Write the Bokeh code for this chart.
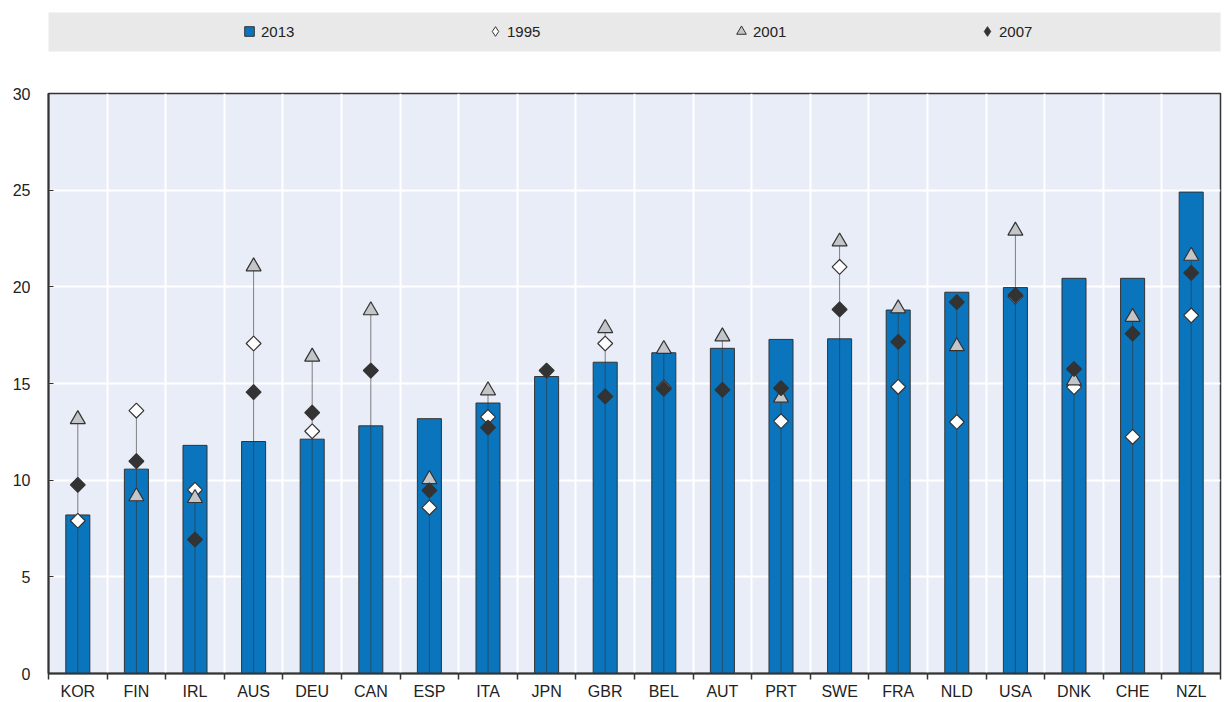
import numpy as np
from bokeh.plotting import figure
from bokeh.layouts import column
from bokeh.models import FixedTicker, Range1d, Legend, LegendItem, ColumnDataSource
from bokeh.embed import file_html
from bokeh.resources import INLINE

nan = float("nan")

countries = ["KOR", "FIN", "IRL", "AUS", "DEU", "CAN", "ESP", "ITA", "JPN", "GBR",
             "BEL", "AUT", "PRT", "SWE", "FRA", "NLD", "USA", "DNK", "CHE", "NZL"]
v2013 = [8.2, 10.57, 11.8, 12.0, 12.12, 12.81, 13.18, 13.99, 15.36, 16.1,
         16.59, 16.82, 17.28, 17.31, 18.8, 19.72, 19.96, 20.44, 20.44, 24.9]
v1995 = [7.9, 13.6, 9.5, 17.07, 12.53, nan, 8.58, 13.27, nan, 17.07,
         14.8, nan, 13.05, 21.03, 14.83, 13.01, 19.49, 14.81, 12.24, 18.52]
v2001 = [13.15, 9.16, 9.07, 21.05, 16.38, 18.78, 10.05, 14.64, nan, 17.86,
         16.78, 17.43, 14.26, 22.34, 18.88, 16.92, 22.9, 15.15, 18.44, 21.6]
v2007 = [9.76, 10.98, 6.93, 14.55, 13.49, 15.67, 9.47, 12.72, 15.67, 14.33,
         14.72, 14.67, 14.76, 18.83, 17.15, 19.21, 19.57, 15.75, 17.58, 20.72]
legend_labels = ["2013", "1995", "2001", "2007"]
y_ticks = [0, 5, 10, 15, 20, 25, 30]

BLUE = "#0a75bc"
DARK = "#333333"
GREY_TRI = "#c3c5c8"
PLOT_BG = "#e9edf7"
BAND_BG = "#e9e9e9"
FONT = "Liberation Sans"

n = len(countries)
xc = np.arange(n) + 0.5
bounds = list(np.arange(n + 1).astype(float))
top_vals = np.nanmax(np.array([v1995, v2001, v2007], dtype=float), axis=0)

src = ColumnDataSource(dict(x=xc, v2013=v2013, v1995=v1995, v2001=v2001, v2007=v2007,
                            zero=np.zeros(n), top=top_vals))

W = 1222
LEFT = 47
RIGHT = 2

# ---- legend band ----
top = figure(width=W, height=56, x_range=Range1d(0, 1), y_range=Range1d(0, 1),
             output_backend="svg", toolbar_location=None,
             x_axis_location=None, y_axis_location=None,
             min_border_left=LEFT + 1, min_border_right=RIGHT,
             min_border_top=12, min_border_bottom=5)
top.background_fill_color = BAND_BG
top.border_fill_color = "white"
top.outline_line_color = None
top.grid.visible = False

r1 = top.scatter(x=[nan], y=[nan], marker="square", size=10, fill_color=BLUE, line_color=DARK)
r2 = top.scatter(x=[nan], y=[nan], marker="diamond", size=10, fill_color="white", line_color=DARK)
r3 = top.scatter(x=[nan], y=[nan], marker="triangle", size=10, fill_color=GREY_TRI, line_color=DARK)
r4 = top.scatter(x=[nan], y=[nan], marker="diamond", size=10, fill_color=DARK, line_color=DARK)

legend = Legend(items=[LegendItem(label=legend_labels[0], renderers=[r1]),
                       LegendItem(label=legend_labels[1], renderers=[r2]),
                       LegendItem(label=legend_labels[2], renderers=[r3]),
                       LegendItem(label=legend_labels[3], renderers=[r4])],
                orientation="horizontal", location=(189, 8),
                glyph_width=24, glyph_height=24, label_standoff=0,
                label_width=222, spacing=0, padding=0, margin=0,
                background_fill_alpha=0, border_line_alpha=0,
                label_text_font=FONT, label_text_font_size="15px",
                label_text_color="#222222")
top.add_layout(legend)

# ---- main chart ----
p = figure(width=W, height=646, x_range=Range1d(0, n), y_range=Range1d(0, 30),
           output_backend="svg", toolbar_location=None,
           min_border_left=LEFT, min_border_right=RIGHT,
           min_border_top=37, min_border_bottom=20)
p.background_fill_color = PLOT_BG
p.border_fill_color = "white"
p.outline_line_color = DARK
p.outline_line_width = 1.5

p.vbar(x="x", top="v2013", width=0.41, bottom=0, source=src,
       fill_color=BLUE, line_color=DARK, line_width=1)
p.segment(x0="x", y0="zero", x1="x", y1="top", source=src,
          line_color=DARK, line_alpha=0.6, line_width=1)
p.scatter(x="x", y="v1995", source=src, marker="square", angle=np.pi / 4, size=10.5,
          fill_color="white", line_color=DARK, line_width=1.2)
p.scatter(x="x", y="v2001", source=src, marker="triangle", size=15,
          fill_color=GREY_TRI, line_color=DARK, line_width=1.2)
p.scatter(x="x", y="v2007", source=src, marker="square", angle=np.pi / 4, size=10.5,
          fill_color=DARK, line_color=DARK, line_width=1.2)

# x axis: labels at centres, ticks at boundaries
xax = p.xaxis[0]
xax.ticker = FixedTicker(ticks=list(xc), minor_ticks=bounds)
xax.major_label_overrides = {float(x): c for x, c in zip(xc, countries)}
xax.major_tick_in = 0
xax.major_tick_out = 0
xax.minor_tick_in = 0
xax.minor_tick_out = 6
xax.minor_tick_line_color = DARK
xax.minor_tick_line_width = 1.5
xax.major_label_standoff = 3
xax.axis_line_color = DARK
xax.axis_line_width = 2
xax.major_label_text_font = FONT
xax.major_label_text_font_size = "16px"
xax.major_label_text_color = "#222222"

yax = p.yaxis[0]
yax.ticker = FixedTicker(ticks=y_ticks)
yax.major_tick_in = 5
yax.major_tick_out = 0
yax.minor_tick_line_color = None
yax.major_tick_line_color = DARK
yax.major_label_standoff = 18
yax.axis_line_color = DARK
yax.axis_line_width = 2
yax.major_label_text_font = FONT
yax.major_label_text_font_size = "16px"
yax.major_label_text_color = "#222222"

p.ygrid.grid_line_color = "white"
p.ygrid.grid_line_width = 2
p.xgrid.ticker = FixedTicker(ticks=bounds[1:-1])
p.xgrid.grid_line_color = "white"
p.xgrid.grid_line_width = 2

layout = column(top, p, spacing=0)
open("out.html", "w").write(file_html(layout, INLINE))
